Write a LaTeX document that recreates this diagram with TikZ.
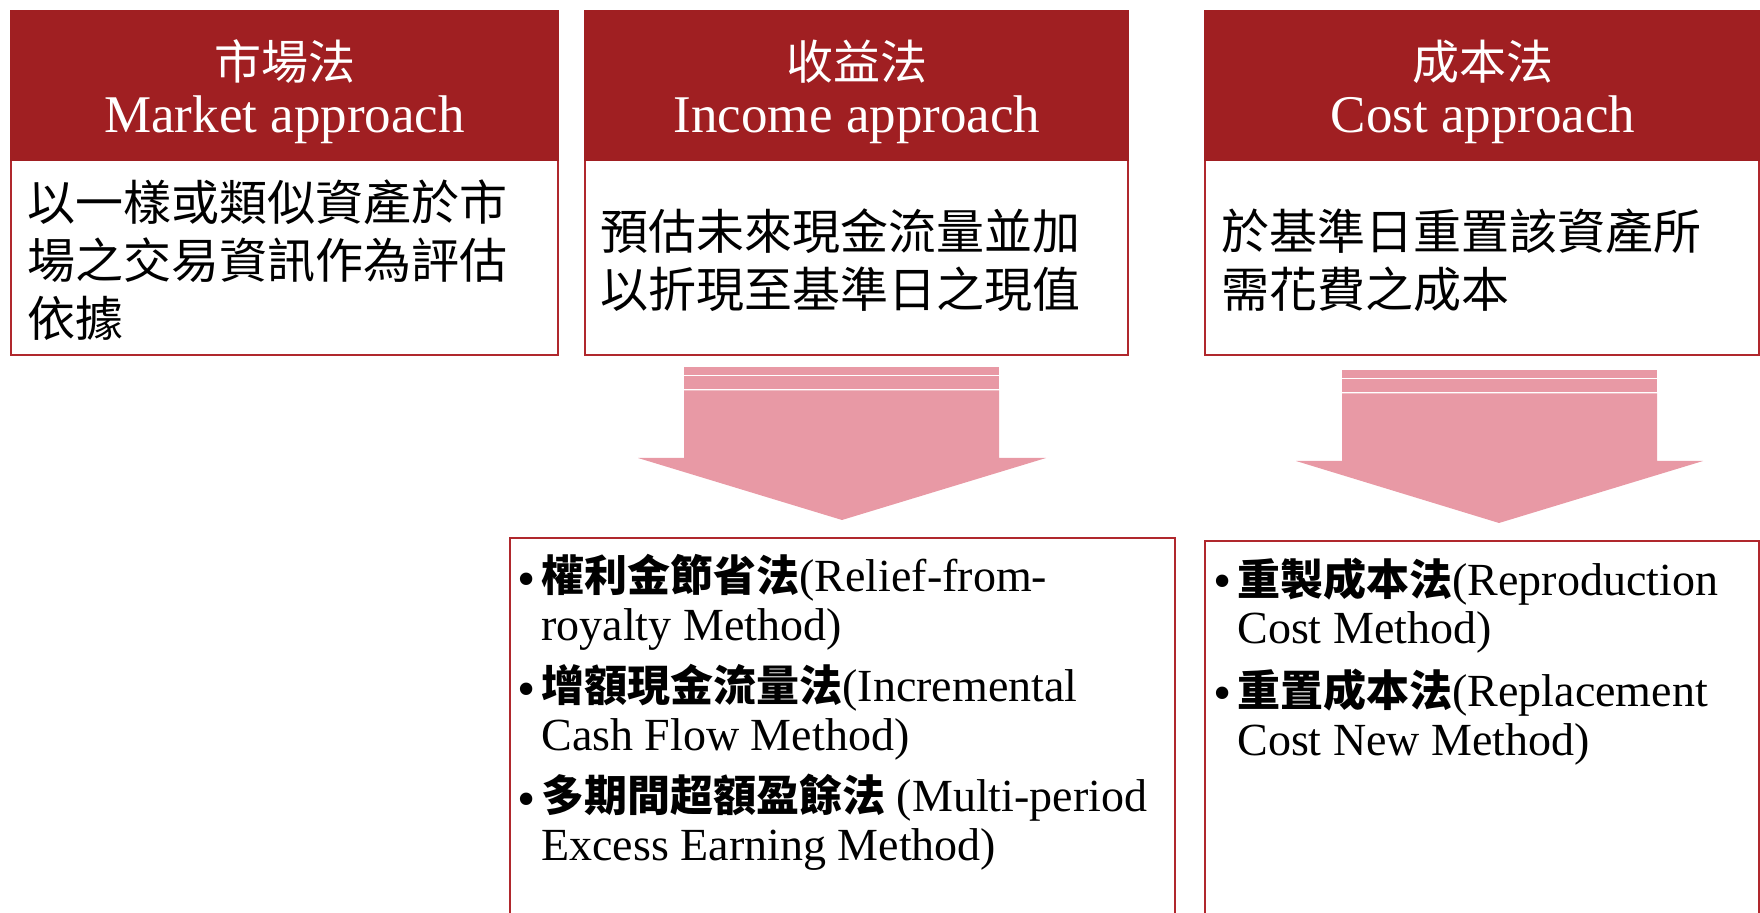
\documentclass[tikz,border=0pt]{standalone}
\usepackage{fontspec}
\setmainfont{Liberation Serif}
\newfontfamily\cjk{Noto Sans CJK TC}
\definecolor{hdr}{HTML}{A01F22}
\definecolor{bdr}{HTML}{B0282D}
\definecolor{arw}{HTML}{E899A5}
\begin{document}
\begin{tikzpicture}[x=0.5pt,y=-0.5pt,
  hdrbox/.style={fill=hdr,draw=none},
  bodybox/.style={draw=bdr,line width=1pt,fill=white},
  arrowfill/.style={fill=arw,draw=none},
  hdrcn/.style={text=white,inner sep=0pt,anchor=base,font=\cjk\fontsize{23.5}{27}\selectfont},
  hdren/.style={text=white,inner sep=0pt,anchor=base,font=\fontsize{26.5}{30}\selectfont},
  bodytxt/.style={inner sep=0pt,anchor=base west,align=left,font=\cjk\fontsize{24}{29}\selectfont},
  itemtxt/.style={inner sep=0pt,anchor=base west,align=left,font=\fontsize{23}{24.5}\selectfont},
  bul/.style={inner sep=0pt,anchor=base,font=\fontsize{26}{26}\selectfont}]
\useasboundingbox (0,0) rectangle (1760,913);
\clip (0,0) rectangle (1760,913);
\newcommand{\zh}[1]{{\cjk\bfseries\fontsize{21.5}{24.5}\selectfont #1}}

% ---- top boxes ----
\path[bodybox] (11,160) rectangle (558,355);
\path[hdrbox] (10,10) rectangle (559,161);
\path[bodybox] (585,160) rectangle (1128,355);
\path[hdrbox] (584,10) rectangle (1129,161);
\path[bodybox] (1205,160) rectangle (1759,355);
\path[hdrbox] (1204,10) rectangle (1760,161);

\node[hdrcn] (h1cn) at (284.5,79.5) {市場法};
\node[hdren] (h1en) at (284.5,133) {Market approach};
\node[hdrcn] (h2cn) at (857,79.5) {收益法};
\node[hdren] (h2en) at (857,133) {Income approach};
\node[hdrcn] (h3cn) at (1483,79.5) {成本法};
\node[hdren] (h3en) at (1483,133) {Cost approach};

% anchor = baseline of the last line
\node[bodytxt] (b1) at (27,337) {以一樣或類似資產於市\\場之交易資訊作為評估\\依據};
\node[bodytxt] (b2) at (600,308) {預估未來現金流量並加\\以折現至基準日之現值};
\node[bodytxt] (b3) at (1221,308) {於基準日重置該資產所\\需花費之成本};

% ---- block arrows ----
\path[arrowfill] (684,367) rectangle (999,375);
\path[arrowfill] (684,376.5) rectangle (999,389);
\path[arrowfill] (684,390.5) -- (999,390.5) -- (999,458) -- (1046,458) -- (842,520) -- (638,458) -- (684,458) -- cycle;

\path[arrowfill] (1342,370) rectangle (1657,378);
\path[arrowfill] (1342,379.5) rectangle (1657,392);
\path[arrowfill] (1342,393.5) -- (1657,393.5) -- (1657,461) -- (1703,461) -- (1499,523) -- (1296,461) -- (1342,461) -- cycle;

% ---- lower boxes ----
\path[bodybox] (510,538) rectangle (1175,940);
\path[bodybox] (1205,541) rectangle (1759,940);

\node[bul] (l1b) at (527,597) {•};
\node[itemtxt] (l1) at (541,640) {\zh{權利金節省法}(Relief-from-\\royalty Method)};
\node[bul] (l2b) at (527,706) {•};
\node[itemtxt] (l2) at (541,750) {\zh{增額現金流量法}(Incremental\\Cash Flow Method)};
\node[bul] (l3b) at (527,816) {•};
\node[itemtxt] (l3) at (541,860) {\zh{多期間超額盈餘法} (Multi-period\\Excess Earning Method)};

\node[bul] (r1b) at (1223,599) {•};
\node[itemtxt] (r1) at (1237,644) {\zh{重製成本法}(Reproduction\\Cost Method)};
\node[bul] (r2b) at (1223,710) {•};
\node[itemtxt] (r2) at (1237,755) {\zh{重置成本法}(Replacement\\Cost New Method)};
\end{tikzpicture}
\end{document}
